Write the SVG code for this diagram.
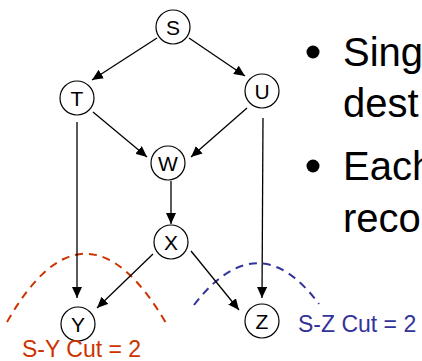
<svg xmlns="http://www.w3.org/2000/svg" width="422" height="361" viewBox="0 0 422 361">
<defs>
<marker id="ah" markerUnits="userSpaceOnUse" markerWidth="12" markerHeight="10" refX="11" refY="5" orient="auto">
<path d="M0,0 L11,5 L0,10 Z" fill="#000"/>
</marker>
<style>
.node ellipse{fill:#fff;stroke:#000;stroke-width:1.2}
.node text{font-family:"Liberation Sans",Arial,sans-serif;font-size:21px;text-anchor:middle;fill:#000}
.edge{stroke:#000;stroke-width:1.3;fill:none;marker-end:url(#ah)}
.big{font-family:"Liberation Sans",Arial,sans-serif;font-size:40px;fill:#000}
.lbl{font-family:"Liberation Sans",Arial,sans-serif;font-size:23px}
</style>
</defs>
<rect width="422" height="361" fill="#fff"/>
<g id="cuts">
<path d="M7,322 Q85,185 166,323" fill="none" stroke="#cc3300" stroke-width="2" stroke-dasharray="8,6"/>
<path d="M194,305 Q258,222 319,304" fill="none" stroke="#333399" stroke-width="2" stroke-dasharray="8,6"/>
</g>
<g id="connectors">
<line class="edge" x1="157" y1="38" x2="92" y2="80"/>
<line class="edge" x1="189" y1="38" x2="245" y2="76"/>
<line class="edge" x1="93" y1="112" x2="147" y2="157"/>
<line class="edge" x1="247" y1="108" x2="191" y2="157"/>
<line class="edge" x1="77" y1="122" x2="77" y2="298"/>
<line class="edge" x1="171" y1="181" x2="171" y2="224"/>
<line class="edge" x1="153" y1="254" x2="97" y2="308"/>
<line class="edge" x1="191" y1="251" x2="239" y2="310"/>
<line class="edge" x1="263" y1="118" x2="262" y2="298"/>
</g>
<g id="S" class="node"><ellipse cx="173" cy="27" rx="17" ry="17"/><text x="173" y="34.5">S</text></g>
<g id="T" class="node"><ellipse cx="77" cy="98" rx="17" ry="17"/><text x="77" y="105.5">T</text></g>
<g id="U" class="node"><ellipse cx="262" cy="91" rx="17" ry="17"/><text x="262" y="98.5">U</text></g>
<g id="W" class="node"><ellipse cx="168" cy="163" rx="17" ry="17"/><text x="168" y="170.5">W</text></g>
<g id="X" class="node"><ellipse cx="171" cy="242" rx="17" ry="17"/><text x="171" y="249.5">X</text></g>
<g id="Y" class="node"><ellipse cx="78" cy="324" rx="17" ry="17"/><text x="78" y="331.5">Y</text></g>
<g id="Z" class="node"><ellipse cx="262" cy="321" rx="17" ry="17"/><text x="262" y="328.5">Z</text></g>
<g id="labels">
<text class="lbl" x="22" y="357" fill="#cc3300">S-Y Cut = 2</text>
<text class="lbl" x="298" y="332" fill="#333399">S-Z Cut = 2</text>
</g>
<g id="bullets">
<circle cx="313" cy="52" r="6.5" fill="#000"/>
<circle cx="313" cy="166" r="6.5" fill="#000"/>
<text class="big" x="343" y="66">Sing</text>
<text class="big" x="343" y="117">dest</text>
<text class="big" x="343" y="180">Each</text>
<text class="big" x="343" y="232">reco</text>
</g>
</svg>
